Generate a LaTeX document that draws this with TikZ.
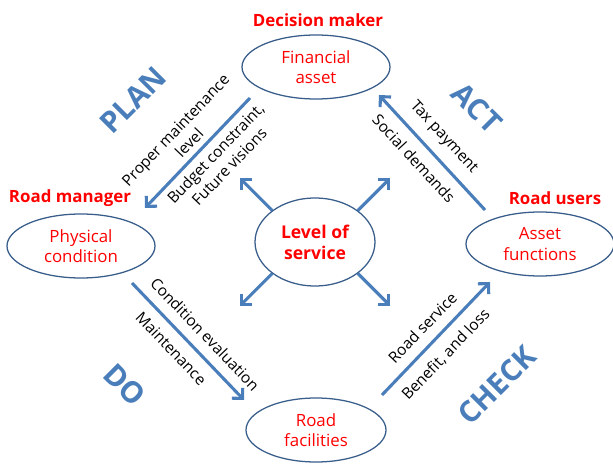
\documentclass[tikz,border=0pt]{standalone}
\usepackage{fontspec}
\setmainfont{Open Sans}
\usetikzlibrary{shapes.geometric,arrows.meta}
\tikzset {>={Straight Barb[angle=90:7.5pt]}}
\definecolor{pdca}{RGB}{74,126,187}
\definecolor{rim}{RGB}{56,93,138}
\tikzset{
  asset/.style={ellipse,draw=rim,line width=0.9pt,fill=white,text=red,align=center,inner sep=0pt,
    minimum width=3.7cm,minimum height=1.6cm,font=\fontsize{12}{14.5}\selectfont},
  role/.style={text=red,font=\fontsize{12}{14}\selectfont\bfseries},
  flow/.style={->,draw=pdca,line width=2.2pt},
  note/.style={sloped,align=center,inner sep=2pt,font=\fontsize{11}{13.5}\selectfont},
  phase/.style={text=pdca,font=\fontsize{21}{24}\selectfont\bfseries}
}

\begin{document}
\begin{tikzpicture}
\useasboundingbox (0,0) rectangle (15.325,11.6);
% assets
\node[asset] (fin) at (7.9,9.925) {Financial\\asset};
\node[asset] (phys) at (2.025,5.45) {Physical\\condition};
\node[asset] (func) at (13.5,5.5) {Asset\\functions};
\node[asset,minimum width=3.5cm] (fac) at (7.9,0.85) {Road\\facilities};
\node[asset,minimum width=3cm,minimum height=2.2cm,font=\fontsize{12.5}{15}\selectfont\bfseries] (los) at (7.875,5.55) {Level of\\service};
% who holds them
\node[role] (dm) at (7.95,11.1) {Decision maker};
\node[role] (rm) at (1.75,6.65) {Road manager};
\node[role] (ru) at (13.875,6.65) {Road users};
% ends of the cycle arrows
\coordinate (pa) at (6.25,9.15);
\coordinate (pb) at (3.625,6.4);
\coordinate (da) at (3.3,4.525);
\coordinate (db) at (6.1,1.6);
\coordinate (ca) at (9.55,1.725);
\coordinate (cb) at (12.25,4.55);
\coordinate (aa) at (12.125,6.35);
\coordinate (ab) at (9.475,9.225);
\draw[flow] (pa) -- node[note,above=2pt,pos=.49] {Proper maintenance\\level}
  node[note,below=2pt,pos=.42] {Budget constraint,\\Future visions} (pb);
\draw[flow] (da) -- node[note,above=5pt,pos=.54] {Condition evaluation}
  node[note,below=5pt,pos=.46] {Maintenance} (db);
\draw[flow] (ca) -- node[note,above=5pt,pos=.49] {Road service}
  node[note,below=5pt,pos=.47] {Benefit, and loss} (cb);
\draw[flow] (aa) -- node[note,above=5pt,pos=.52] {Tax payment}
  node[note,below=5pt,pos=.55] {Social demands} (ab);
% level of service spreads out
\foreach \a/\d in {north west/135,north east/45,south west/225,south east/-45}
  \draw[flow] (los.\a) -- ++(\d:1.15);
% PDCA
\node[phase,rotate=45] (plan) at (3.325,9.1) {PLAN};
\node[phase,rotate=-45] (act) at (11.925,8.9) {ACT};
\node[phase,rotate=-45] (do) at (3.125,1.975) {DO};
\node[phase,rotate=45] (check) at (12.425,1.975) {CHECK};
\end{tikzpicture}
\end{document}
